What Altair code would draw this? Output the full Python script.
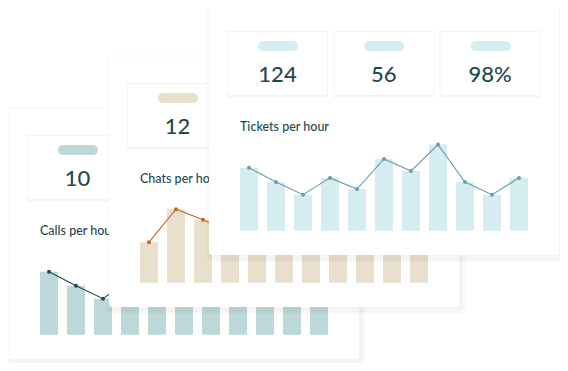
import altair as alt
import pandas as pd

# ---------------- data ----------------
hours = ["8am", "9am", "10am", "11am", "12pm", "1pm", "2pm", "3pm", "4pm", "5pm", "6pm"]
calls = [21, 16.3, 12, 18.5, 15, 19, 13, 17, 20, 14, 16]
chats = [13.5, 24.5, 21, 16.5, 18, 15, 20, 17, 14, 19, 16]
tickets = [21, 16.2, 12, 17.6, 13.9, 23.9, 19.9, 28.7, 16.2, 12, 17.6]
titles = ["Calls per hour", "Chats per hour", "Tickets per hour"]
kpi_calls = ["10"]
kpi_chats = ["12"]
kpi_tickets = ["124", "56", "98%"]

# ---------------- styles / layout ----------------
bar_colors = ["#bdd8d8", "#e9dfcd", "#d5ecf0"]
line_colors = ["#1e4a4f", "#c8661f", "#6a9dab"]
TEXT = "#1f4a50"
M = 8  # page margin
CARD_W, CARD_H = 350, 250
card_pos = [(9, 109), (109, 57), (209, 5)]
series = [calls, chats, tickets]
kpis = [kpi_calls, kpi_chats, kpi_tickets]

layers = []


def rect_layer(rows, radius=0):
    df = pd.DataFrame(rows, columns=["x", "x2", "y", "y2", "c", "o"])
    return alt.Chart(df).mark_rect(cornerRadius=radius).encode(
        x=alt.X("x:Q", scale=None),
        x2="x2:Q",
        y=alt.Y("y:Q", scale=None),
        y2="y2:Q",
        color=alt.Color("c:N", scale=None),
        opacity=alt.Opacity("o:Q", scale=None),
    )


for i in range(3):
    cx, cy = card_pos[i][0] - M, card_pos[i][1] - M
    # card shadow + card
    layers.append(rect_layer([
        (cx - 2, cx + CARD_W + 6, cy - 2, cy + CARD_H + 7, "#000000", 0.02),
        (cx, cx + CARD_W + 4, cy + 1, cy + CARD_H + 5, "#000000", 0.025),
    ], radius=4))
    layers.append(rect_layer([(cx, cx + CARD_W, cy, cy + CARD_H, "#ffffff", 1)], radius=3))

    # KPI boxes
    box_rows_sh, box_rows, pill_rows, num_rows = [], [], [], []
    for k, val in enumerate(kpis[i]):
        bx = cx + 19 + k * 106.3
        box_rows_sh.append((bx - 1, bx + 100, cy + 26, cy + 92.5, "#000000", 0.045))
        box_rows.append((bx, bx + 99, cy + 27, cy + 90, "#ffffff", 1))
        pill_rows.append((bx + 30, bx + 70, cy + 36, cy + 46, bar_colors[i], 1))
        num_rows.append({"x": bx + 49.5, "y": cy + 77, "t": val})
    layers.append(rect_layer(box_rows_sh))
    layers.append(rect_layer(box_rows))
    layers.append(rect_layer(pill_rows, radius=5))
    layers.append(
        alt.Chart(pd.DataFrame(num_rows)).mark_text(
            font="Lato", fontSize=22, fontWeight=500, color=TEXT, align="center", baseline="alphabetic"
        ).encode(x=alt.X("x:Q", scale=None), y=alt.Y("y:Q", scale=None), text="t:N")
    )
    # title
    layers.append(
        alt.Chart(pd.DataFrame([{"x": cx + 31, "y": cy + 126, "t": titles[i]}])).mark_text(
            font="Lato", fontSize=12.5, fontWeight=500, color=TEXT, align="left", baseline="alphabetic"
        ).encode(x=alt.X("x:Q", scale=None), y=alt.Y("y:Q", scale=None), text="t:N")
    )

    # bars + line
    df = pd.DataFrame({"hour": hours, "v": series[i]})
    xs = alt.Scale(type="band", domain=hours, range=[cx + 31, cx + 319], paddingInner=1 / 3, paddingOuter=0)
    ys = alt.Scale(domain=[0, 30], range=[cy + 225.7, cy + 135.7])
    base = alt.Chart(df)
    layers.append(
        base.mark_bar(color=bar_colors[i]).encode(
            x=alt.X("hour:O", scale=xs, axis=None, sort=hours),
            y=alt.Y("v:Q", scale=ys, axis=None),
        )
    )
    layers.append(
        base.mark_line(color=line_colors[i], strokeWidth=1.1).encode(
            x=alt.X("hour:O", scale=xs, axis=None, sort=hours, bandPosition=0.5),
            y=alt.Y("v:Q", scale=ys, axis=None),
        )
    )
    layers.append(
        base.mark_circle(color=line_colors[i], size=16, opacity=1).encode(
            x=alt.X("hour:O", scale=xs, axis=None, sort=hours, bandPosition=0.5),
            y=alt.Y("v:Q", scale=ys, axis=None),
        )
    )

chart = (
    alt.layer(*layers)
    .resolve_scale(x="independent", y="independent")
    .properties(width=552, height=355, padding=0, autosize=alt.AutoSizeParams(type="none"), background="#ffffff")
    .configure_view(strokeWidth=0)
)

chart.save("out.html", embed_options={"renderer": "svg", "actions": False})
